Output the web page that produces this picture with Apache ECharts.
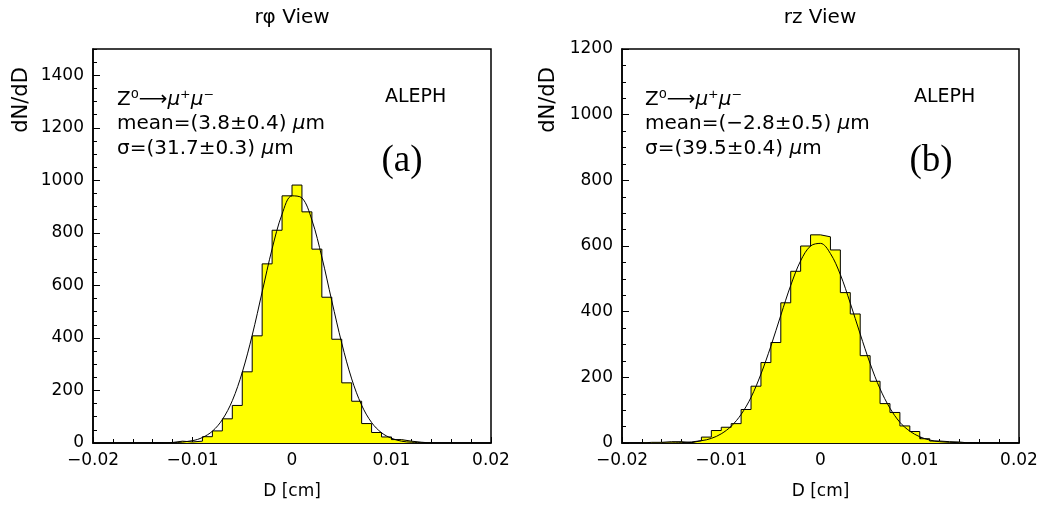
<!DOCTYPE html>
<html><head><meta charset="utf-8">
<script src="https://cdn.jsdelivr.net/npm/echarts@6/dist/echarts.min.js"></script>
<style>html,body{margin:0;padding:0;background:#fff}#c{width:1048px;height:507px}</style>
</head><body><div id="c"></div>
<script>
// ---- data ----
const binStart = -0.02;
const binWidth = 0.001;
const countsA = [0,0,0,0,0,0,0,2,7,4,7,24,46,92,143,271,408,682,810,941,982,880,738,555,395,229,159,74,40,23,13,7,3,0,0,0,0,0,0,0];
const countsB = [0,0,2,2,4,4,1,7,18,38,48,59,102,173,245,306,427,523,600,634,628,588,458,393,266,188,120,93,52,35,13,6,4,3,0,0,0,0,0,0];
const fitDA = [-0.014,-0.012,-0.010,-0.009,-0.008,-0.007,-0.006,-0.005,-0.004,-0.003,-0.002,-0.001,0,0.001,0.002,0.003,0.004,0.005,0.006,0.007,0.008,0.009,0.010,0.011,0.012,0.014];
const fitNA = [0,1,9,21,45,89,161,269,410,575,739,871,941,933,849,708,541,380,244,144,78,39,18,7,3,0];
const fitDB = [-0.016,-0.014,-0.012,-0.011,-0.010,-0.009,-0.008,-0.007,-0.006,-0.005,-0.004,-0.003,-0.002,-0.001,0,0.001,0.002,0.003,0.004,0.005,0.006,0.007,0.008,0.009,0.010,0.011,0.012,0.014,0.016];
const fitNB = [0,1,7,14,28,51,87,139,210,295,389,480,555,600,608,577,513,426,332,242,165,106,63,36,19,9,4,1,0];
const xTickValues = [-0.02,-0.01,0,0.01,0.02];
const xTickLabels = ['\u22120.02','\u22120.01','0','0.01','0.02'];
const titles = ['r\u03c6 View','rz View'];
const yName = 'dN/dD';
const xName = 'D [cm]';
const infoA = ['mean=(3.8\u00b10.4) ','\u03c3=(31.7\u00b10.3) '];
const infoB = ['mean=(\u22122.8\u00b10.5) ','\u03c3=(39.5\u00b10.4) '];
const panelTags = ['(a)','(b)'];
const experiment = 'ALEPH';

// ---- build ----
function histData(counts){
  const d = counts.map((c,i)=>[binStart + i*binWidth, c]);
  d.push([binStart + counts.length*binWidth, counts[counts.length-1]]);
  return d;
}
const FONT = '"DejaVu Sans", sans-serif';
function xAxisOf(g){
  return {type:'value', gridIndex:g, min:-0.02, max:0.02, interval:0.01,
    axisLine:{show:true, onZero:false, lineStyle:{color:'#000', width:1.5}},
    axisTick:{show:true, inside:true, length:6, lineStyle:{color:'#000', width:1}},
    minorTick:{show:true, splitNumber:5, length:4, lineStyle:{color:'#000', width:1}},
    splitLine:{show:false}, minorSplitLine:{show:false},
    axisLabel:{color:'#000', fontSize:17, fontFamily:FONT, margin:9,
      formatter:v=>{const i=xTickValues.findIndex(t=>Math.abs(t-v)<1e-9);return i>=0?xTickLabels[i]:'';}},
    name:xName, nameLocation:'middle', nameGap:40,
    nameTextStyle:{color:'#000', fontSize:17, fontFamily:FONT}
  };
}
function yMain(g,max){
  return {type:'value', gridIndex:g, min:0, max:max, interval:200, position:'left',
    axisLine:{show:true, onZero:false, lineStyle:{color:'#000', width:1.5}},
    axisTick:{show:true, inside:true, length:7, lineStyle:{color:'#000', width:1}},
    splitLine:{show:false},
    axisLabel:{color:'#000', fontSize:17, fontFamily:FONT, margin:9, showMaxLabel: max%200===0,
      formatter:v=>(v%200===0?String(v):'')}
  };
}
function yMinor(g,max){
  return {type:'value', gridIndex:g, min:0, max:max, interval:50, position:'left',
    axisLine:{show:false, onZero:false}, axisLabel:{show:false}, splitLine:{show:false},
    axisTick:{show:true, inside:true, length:4, lineStyle:{color:'#000', width:1}}
  };
}
function histSeries(counts,xi,yi){
  return {type:'line', xAxisIndex:xi, yAxisIndex:yi, step:'end', data:histData(counts),
    symbol:'none', lineStyle:{color:'#000', width:1}, areaStyle:{color:'#ffff00', opacity:1},
    silent:true, animation:false, z:2};
}
function fitSeries(ds,ns,xi,yi){
  return {type:'line', xAxisIndex:xi, yAxisIndex:yi, smooth:0.35, data:ds.map((d,i)=>[d,ns[i]]),
    symbol:'none', lineStyle:{color:'#000', width:1}, silent:true, animation:false, z:3};
}
function txt(x,y,text,opts){
  return Object.assign({type:'text', x:x, y:y, silent:true, z:10,
    style:Object.assign({text:text, fill:'#000', font:'19px '+FONT, textAlign:'left', textVerticalAlign:'middle'}, opts||{})});
}
const rich = {r:{fontSize:20, fontFamily:FONT, fill:'#000'}, i:{fontSize:20, fontFamily:FONT, fontStyle:'italic', fill:'#000'}};
function infoBlock(x, info){
  return [
    txt(x,100,'',{text:'{r|Z\u2070\u27f6}{i|\u03bc\u207a\u03bc\u207b}', rich:rich}),
    txt(x,124,'',{text:'{r|'+info[0]+'}{i|\u03bc}{r|m}', rich:rich}),
    txt(x,149,'',{text:'{r|'+info[1]+'}{i|\u03bc}{r|m}', rich:rich})
  ];
}
const grids = [
  {left:93, top:49, width:398, height:394, show:true, borderColor:'#000', borderWidth:1.5, backgroundColor:'transparent'},
  {left:622, top:49, width:397, height:394, show:true, borderColor:'#000', borderWidth:1.5, backgroundColor:'transparent'}
];
const chart = echarts.init(document.getElementById('c'), null, {renderer:'canvas'});
chart.setOption({
  animation:false,
  backgroundColor:'#fff',
  grid:grids,
  xAxis:[xAxisOf(0), xAxisOf(1)],
  yAxis:[yMain(0,1500), yMinor(0,1500), yMain(1,1200), yMinor(1,1200)],
  series:[
    histSeries(countsA,0,0), fitSeries(fitDA,fitNA,0,0),
    histSeries(countsB,1,2), fitSeries(fitDB,fitNB,1,2)
  ],
  graphic:[
    txt(292,18,titles[0],{textAlign:'center', font:'20px '+FONT}),
    txt(820,18,titles[1],{textAlign:'center', font:'20px '+FONT}),
    Object.assign(txt(22,100,yName,{textAlign:'center', font:'21px '+FONT}),{rotation:Math.PI/2}),
    Object.assign(txt(549,100,yName,{textAlign:'center', font:'21px '+FONT}),{rotation:Math.PI/2}),
    ...infoBlock(117, infoA),
    ...infoBlock(645, infoB),
    txt(385,97,experiment),
    txt(914,97,experiment),
    txt(402,161,panelTags[0],{textAlign:'center', font:'37px "Liberation Serif", serif'}),
    txt(931,161,panelTags[1],{textAlign:'center', font:'37px "Liberation Serif", serif'})
  ]
});
</script></body></html>
